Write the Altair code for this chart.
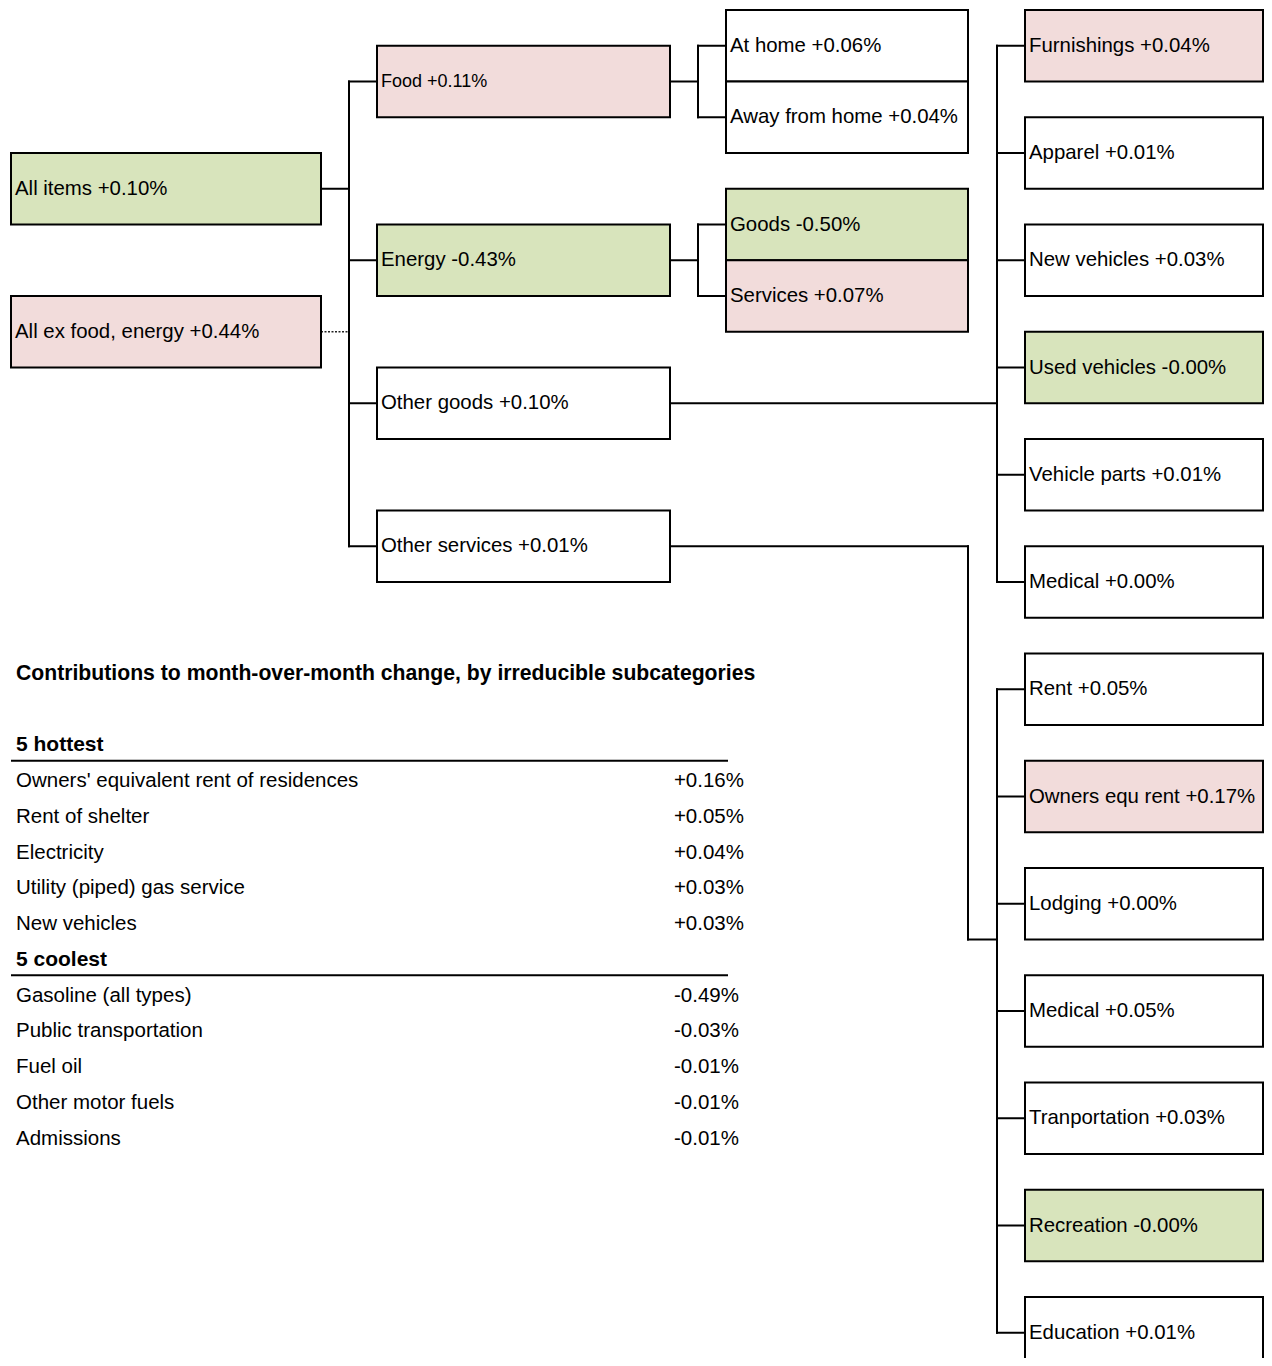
import altair as alt
import pandas as pd

# ---------------- data ----------------
top_labels = ["All items", "All ex food, energy"]
top_values = [0.10, 0.44]
top_heat = ["cool", "hot"]

group_labels = ["Food", "Energy", "Other goods", "Other services"]
group_values = [0.11, -0.43, 0.10, 0.01]
group_heat = ["hot", "cool", "neutral", "neutral"]

food_labels = ["At home", "Away from home"]
food_values = [0.06, 0.04]
food_heat = ["neutral", "neutral"]

energy_labels = ["Goods", "Services"]
energy_values = [-0.50, 0.07]
energy_heat = ["cool", "hot"]

goods_labels = ["Furnishings", "Apparel", "New vehicles", "Used vehicles", "Vehicle parts", "Medical"]
goods_values = [0.04, 0.01, 0.03, -0.0, 0.01, 0.00]
goods_heat = ["hot", "neutral", "neutral", "cool", "neutral", "neutral"]

services_labels = ["Rent", "Owners equ rent", "Lodging", "Medical", "Tranportation", "Recreation", "Education"]
services_values = [0.05, 0.17, 0.00, 0.05, 0.03, -0.0, 0.01]
services_heat = ["neutral", "hot", "neutral", "neutral", "neutral", "cool", "neutral"]

table_title = "Contributions to month-over-month change, by irreducible subcategories"
hot_header = "5 hottest"
hot_labels = ["Owners' equivalent rent of residences", "Rent of shelter", "Electricity",
              "Utility (piped) gas service", "New vehicles"]
hot_values = [0.16, 0.05, 0.04, 0.03, 0.03]
cool_header = "5 coolest"
cool_labels = ["Gasoline (all types)", "Public transportation", "Fuel oil",
               "Other motor fuels", "Admissions"]
cool_values = [-0.49, -0.03, -0.01, -0.01, -0.01]

heat_domain = ["hot", "cool", "neutral"]
heat_colors = ["#F2DCDB", "#D8E4BC", "#FFFFFF"]

# ---------------- layout (grid of spreadsheet-like rows) ----------------
ROW_PX = 35.75
ROW0_PX = 10.0
COL = {0: (11, 321), 1: (377, 670), 2: (726, 968), 3: (1025, 1263)}
TRUNK = {0: 349, 1: 698, 2: 997}
JOG_X = 968
FONT = "Liberation Sans"
BOX_FS = 20.4
SMALL_FS = 18
TAB_FS = 20.5
BOLD_FS = 21
TITLE_FS = 21.2


def fmt(v):
    return f"{v:+.2f}%"


nodes = []


def add_nodes(labels, values, heat, col, tops, sizes=None):
    for i, (lab, v, h, t) in enumerate(zip(labels, values, heat, tops)):
        nodes.append(dict(x=COL[col][0], x2=COL[col][1], y=t, y2=t + 2, heat=h,
                          tx=COL[col][0] + 4, ty=t + 1, text=f"{lab} {fmt(v)}",
                          size=sizes[i] if sizes else BOX_FS))


food_tops = [0, 2]
energy_tops = [5, 7]
goods_tops = [3 * i for i in range(len(goods_labels))]
services_tops = [18 + 3 * i for i in range(len(services_labels))]
group_tops = [1, 6, 10, 14]
top_tops = [4, 8]

add_nodes(top_labels, top_values, top_heat, 0, top_tops)
add_nodes(group_labels, group_values, group_heat, 1, group_tops,
          sizes=[SMALL_FS, BOX_FS, BOX_FS, BOX_FS])
add_nodes(food_labels, food_values, food_heat, 2, food_tops)
add_nodes(energy_labels, energy_values, energy_heat, 2, energy_tops)
add_nodes(goods_labels, goods_values, goods_heat, 3, goods_tops)
add_nodes(services_labels, services_values, services_heat, 3, services_tops)
nodes_df = pd.DataFrame(nodes)

# connectors
segs = []


def seg(x, x2, y, y2, dash=False):
    segs.append(dict(x=x, x2=x2, y=y, y2=y2, dash=dash))


c_top = [t + 1 for t in top_tops]
c_grp = [t + 1 for t in group_tops]
seg(COL[0][1], TRUNK[0], c_top[0], c_top[0])
seg(COL[0][1], TRUNK[0], c_top[1], c_top[1], dash=True)
seg(TRUNK[0], TRUNK[0], c_grp[0], c_grp[-1])
for c in c_grp:
    seg(TRUNK[0], COL[1][0], c, c)
for gi, tops in [(0, food_tops), (1, energy_tops)]:
    cs = [t + 1 for t in tops]
    seg(COL[1][1], TRUNK[1], c_grp[gi], c_grp[gi])
    seg(TRUNK[1], TRUNK[1], cs[0], cs[-1])
    for c in cs:
        seg(TRUNK[1], COL[2][0], c, c)
cs = [t + 1 for t in goods_tops]
seg(COL[1][1], TRUNK[2], c_grp[2], c_grp[2])
seg(TRUNK[2], TRUNK[2], cs[0], cs[-1])
for c in cs:
    seg(TRUNK[2], COL[3][0], c, c)
cs = [t + 1 for t in services_tops]
jog_row = services_tops[2] + 2
seg(COL[1][1], JOG_X, c_grp[3], c_grp[3])
seg(JOG_X, JOG_X, c_grp[3], jog_row)
seg(JOG_X, TRUNK[2], jog_row, jog_row)
seg(TRUNK[2], TRUNK[2], cs[0], cs[-1])
for c in cs:
    seg(TRUNK[2], COL[3][0], c, c)
segs_df = pd.DataFrame(segs)

# table
TX = 16
TEXT_OFF = 0.57
bold_rows = [dict(tx=TX, ty=18 + TEXT_OFF, text=table_title, size=TITLE_FS),
             dict(tx=TX, ty=20 + TEXT_OFF, text=hot_header, size=BOLD_FS),
             dict(tx=TX, ty=26 + TEXT_OFF, text=cool_header, size=BOLD_FS)]
bold_df = pd.DataFrame(bold_rows)
tab_rows = []
for i, (lab, v) in enumerate(zip(hot_labels, hot_values)):
    tab_rows.append(dict(tx=TX, ty=21 + i + TEXT_OFF, text=lab, vx=744 if v >= 0 else 739, vtext=fmt(v)))
for i, (lab, v) in enumerate(zip(cool_labels, cool_values)):
    tab_rows.append(dict(tx=TX, ty=27 + i + TEXT_OFF, text=lab, vx=744 if v >= 0 else 739, vtext=fmt(v)))
tab_df = pd.DataFrame(tab_rows)
under_df = pd.DataFrame([dict(x=11, x2=728, y=21, y2=21), dict(x=11, x2=728, y=27, y2=27)])

# ---------------- scales ----------------
W, H = 1256, 1350
xs = alt.Scale(domain=[8, 8 + W], range=[0, W], nice=False, zero=False)
ys = alt.Scale(domain=[(8 - ROW0_PX) / ROW_PX, (8 + H - ROW0_PX) / ROW_PX], range=[0, H],
               nice=False, zero=False)

boxes = alt.Chart(nodes_df).mark_rect(stroke="black", strokeWidth=2).encode(
    x=alt.X("x:Q", scale=xs, axis=None), x2="x2:Q",
    y=alt.Y("y:Q", scale=ys, axis=None), y2="y2:Q",
    fill=alt.Fill("heat:N", scale=alt.Scale(domain=heat_domain, range=heat_colors), legend=None),
)
box_text = alt.Chart(nodes_df).mark_text(align="left", baseline="middle", font=FONT, color="black").encode(
    x=alt.X("tx:Q", scale=xs, axis=None), y=alt.Y("ty:Q", scale=ys, axis=None),
    text="text:N", size=alt.Size("size:Q", scale=None),
)
solid = alt.Chart(segs_df[~segs_df.dash]).mark_rule(color="black", strokeWidth=2, strokeCap="square").encode(
    x=alt.X("x:Q", scale=xs, axis=None), x2="x2:Q",
    y=alt.Y("y:Q", scale=ys, axis=None), y2="y2:Q",
)
dashed = alt.Chart(segs_df[segs_df.dash]).mark_rule(color="#222222", strokeWidth=1.6, strokeDash=[2, 1.5]).encode(
    x=alt.X("x:Q", scale=xs, axis=None), x2="x2:Q",
    y=alt.Y("y:Q", scale=ys, axis=None), y2="y2:Q",
)
bold_text = alt.Chart(bold_df).mark_text(align="left", baseline="middle", font=FONT,
                                         fontWeight="bold", color="black").encode(
    x=alt.X("tx:Q", scale=xs, axis=None), y=alt.Y("ty:Q", scale=ys, axis=None), text="text:N",
    size=alt.Size("size:Q", scale=None),
)
tab_text = alt.Chart(tab_df).mark_text(align="left", baseline="middle", font=FONT, fontSize=TAB_FS,
                                       color="black").encode(
    x=alt.X("tx:Q", scale=xs, axis=None), y=alt.Y("ty:Q", scale=ys, axis=None), text="text:N",
)
tab_vals = alt.Chart(tab_df).mark_text(align="right", baseline="middle", font=FONT, fontSize=TAB_FS,
                                       color="black").encode(
    x=alt.X("vx:Q", scale=xs, axis=None), y=alt.Y("ty:Q", scale=ys, axis=None), text="vtext:N",
)
underlines = alt.Chart(under_df).mark_rule(color="black", strokeWidth=2).encode(
    x=alt.X("x:Q", scale=xs, axis=None), x2="x2:Q",
    y=alt.Y("y:Q", scale=ys, axis=None), y2="y2:Q",
)

chart = alt.layer(solid, dashed, boxes, box_text, underlines, bold_text, tab_text, tab_vals).properties(
    width=W, height=H, autosize=alt.AutoSizeParams(type="none"), padding=0, background="white",
).configure_view(stroke=None)

chart.save("out.html", embed_options={"renderer": "svg", "actions": False})
